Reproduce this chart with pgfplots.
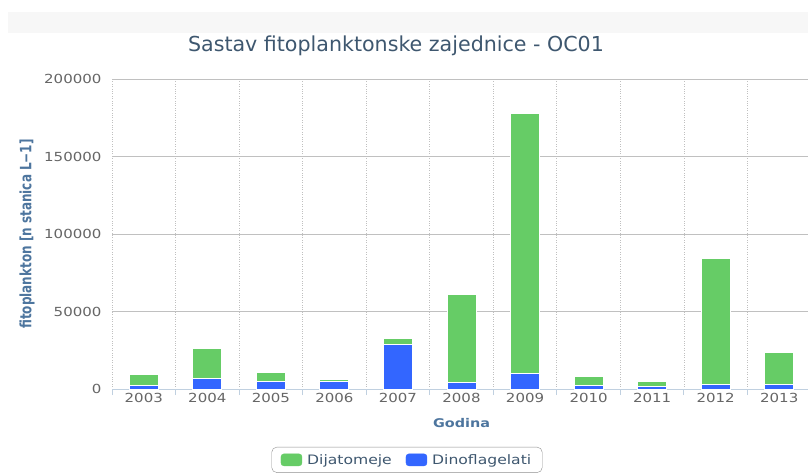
\documentclass[border=0pt]{standalone}
\usepackage{pgfplots}
\pgfplotsset{compat=1.18}
\usepackage{fontspec}
\setmainfont{DejaVu Sans}
\newfontfamily\tickfont[FakeStretch=1.2]{DejaVu Sans}
\definecolor{dgreen}{HTML}{66CC66}
\definecolor{dblue}{HTML}{3366FF}
\definecolor{gridc}{HTML}{C0C0C0}
\definecolor{axisc}{HTML}{C0D0E0}
\definecolor{tickc}{HTML}{666666}
\definecolor{titlec}{HTML}{3E576F}
\definecolor{labc}{HTML}{4D759E}
\definecolor{legc}{HTML}{909090}
\begin{document}
\begin{tikzpicture}
\useasboundingbox (0pt,0pt) rectangle (808pt,475pt);
\fill[black!3] (8pt,442pt) rectangle (808pt,463pt);
\node[font=\fontsize{20.6}{24}\selectfont, text=titlec] at (396pt,429pt) {Sastav fitoplanktonske zajednice - OC01};
\begin{axis}[
  at={(112pt,86pt)}, anchor=south west, scale only axis,
  width=699pt, height=310pt,
  ybar stacked, bar width=29pt,
  xmin=-0.5, xmax=10.5, ymin=0, ymax=200000,
  xtick={0,...,10},
  xticklabels={2003,2004,2005,2006,2007,2008,2009,2010,2011,2012,2013},
  minor xtick={-0.5,0.5,...,10.5},
  ytick={0,50000,100000,150000,200000},
  scaled y ticks=false,
  /pgf/number format/assume math mode=true,
  yticklabel style={/pgf/number format/fixed, /pgf/number format/1000 sep={}, font=\tickfont\fontsize{12.5}{14}\selectfont, text=tickc, xshift=-7pt},
  xticklabel style={font=\tickfont\fontsize{12.5}{14}\selectfont, text=tickc, yshift=-1pt},
  axis x line*=bottom, axis y line*=left,
  x axis line style={draw=axisc, line width=1pt, -},
  y axis line style={draw=none},
  tick align=outside,
  major tick length=0pt, minor tick length=6pt,
  minor x tick style={draw=axisc, line width=1pt},
  ymajorgrids=true, major y grid style={draw=gridc, line width=0.9pt},
  xminorgrids=true, minor x grid style={draw=gridc, dotted, line width=0.8pt},
  xlabel={Godina},
  xlabel style={at={(axis description cs:0.5,-0.11)}, anchor=center, font=\tickfont\bfseries\fontsize{12}{14}\selectfont, text=labc},
  ylabel={fitoplankton [n stanica L−1]},
  ylabel style={at={(axis description cs:-0.1216,0.5)}, anchor=center, yscale=1.3, font=\bfseries\fontsize{12}{14}\selectfont, text=labc},
  legend columns=2,
  legend style={at={(axis description cs:0.422,-0.187)}, anchor=north, draw=legc, rounded corners=5pt,
    font=\tickfont\fontsize{13}{15}\selectfont, text=titlec, inner xsep=9pt, inner ysep=5pt,
    /tikz/every even column/.append style={column sep=12pt},
    /tikz/every odd column/.append style={column sep=3pt}},
  legend cell align=left,
]
\addlegendimage{legend image code/.code={\fill[dgreen, rounded corners=3pt] (0pt,-6pt) rectangle (21pt,6pt);}}
\addlegendentry{Dijatomeje}
\addlegendimage{legend image code/.code={\fill[dblue, rounded corners=3pt] (0pt,-6pt) rectangle (21pt,6pt);}}
\addlegendentry{Dinoflagelati}
\addplot[fill=dblue, draw=white, line width=1pt, forget plot] coordinates {
(0,2500) (1,7000) (2,4600) (3,4800) (4,28500) (5,4100) (6,10000) (7,2000) (8,1300) (9,2800) (10,2800)};
\addplot[fill=dgreen, draw=white, line width=1pt, forget plot] coordinates {
(0,7000) (1,19000) (2,5900) (3,1200) (4,4000) (5,57000) (6,168000) (7,5800) (8,3500) (9,81500) (10,20700)};
\end{axis}
\end{tikzpicture}
\end{document}
